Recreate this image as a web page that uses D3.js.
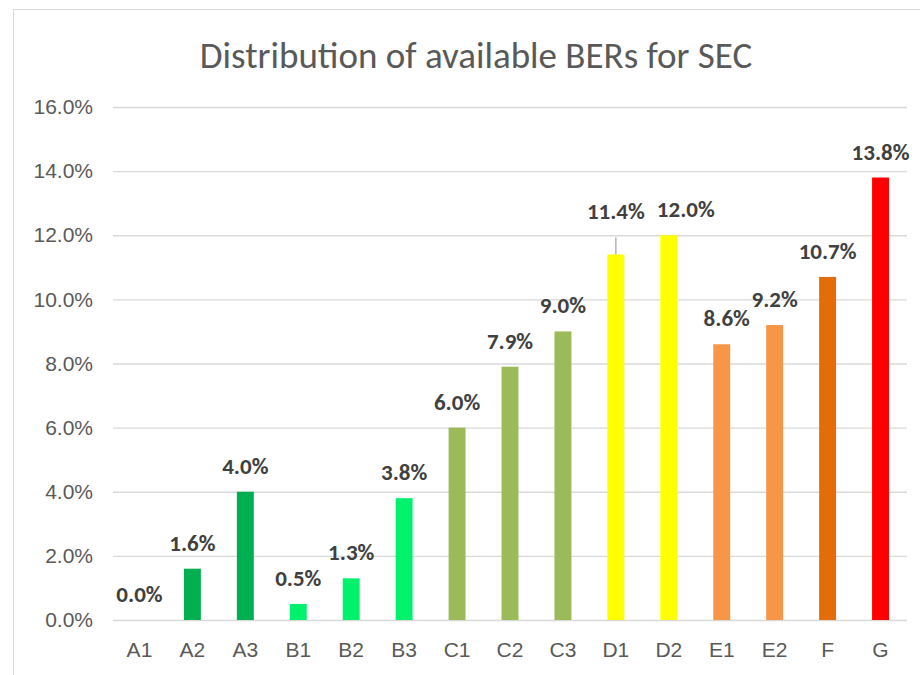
<!DOCTYPE html>
<html>
<head>
<meta charset="utf-8">
<script src="https://cdn.jsdelivr.net/npm/d3@7"></script>
<style>
  body { margin: 0; background: #fff; }
  svg { display: block; font-family: Carlito, Calibri, Lato, sans-serif; }
</style>
</head>
<body>
<svg id="chart"></svg>
<script>
// Chart data
const categories = ['A1', 'A2', 'A3', 'B1', 'B2', 'B3', 'C1', 'C2', 'C3', 'D1', 'D2', 'E1', 'E2', 'F', 'G'];
const values = [0.0, 1.6, 4.0, 0.5, 1.3, 3.8, 6.0, 7.9, 9.0, 11.4, 12.0, 8.6, 9.2, 10.7, 13.8];
const barColors = ['#00B050', '#00B050', '#00B050', '#00F26D', '#00F26D', '#00F26D',
  '#9BBB59', '#9BBB59', '#9BBB59', '#FFFF00', '#FFFF00', '#F79646', '#F79646', '#E46C0A', '#FF0000'];
const yTicks = [0, 2, 4, 6, 8, 10, 12, 14, 16];
const chartTitle = 'Distribution of available BERs for SEC';

const width = 920;
const height = 675;
const marginTop = 107;
const marginRight = 13;
const marginBottom = 55;
const marginLeft = 113;

const svg = d3.select('#chart')
  .attr('width', width)
  .attr('height', height)
  .attr('viewBox', [0, 0, width, height]);

// chart area border (only left/top visible)
svg.append('path')
  .attr('d', `M13.5,${height} V9.5 H${width}`)
  .attr('fill', 'none')
  .attr('stroke', '#D9D9D9')
  .attr('stroke-width', 1);

const xScale = d3.scaleBand(categories, [marginLeft, width - marginRight]).paddingInner(0.68).paddingOuter(0.34);
const yScale = d3.scaleLinear([0, 16], [height - marginBottom, marginTop]);

// Title
svg.append('text')
  .attr('x', 476)
  .attr('y', 68)
  .attr('text-anchor', 'middle')
  .attr('fill', '#595959')
  .attr('font-size', 37)
  .text(chartTitle);

// Y axis with grid
svg.append('g')
  .attr('transform', `translate(${marginLeft},0)`)
  .call(d3.axisLeft(yScale).tickValues(yTicks).tickFormat(d => d.toFixed(1) + '%').tickSize(0).tickPadding(20))
  .call(g => g.select('.domain').remove())
  .call(g => g.selectAll('.tick text')
    .attr('fill', '#595959')
    .attr('font-size', 21)
    .attr('font-family', null))
  .call(g => g.selectAll('.tick line')
    .attr('stroke', '#D9D9D9')
    .attr('stroke-width', 1.3)
    .attr('x2', width - marginLeft - marginRight));

// X axis
svg.append('g')
  .attr('transform', `translate(0,${height - marginBottom})`)
  .call(d3.axisBottom(xScale).tickSize(0).tickPadding(22))
  .call(g => g.select('.domain').remove())
  .call(g => g.selectAll('.tick text')
    .attr('fill', '#595959')
    .attr('font-size', 21)
    .attr('font-family', null));

// Bars
svg.append('g')
  .selectAll('rect')
  .data(values)
  .join('rect')
  .attr('x', (d, i) => xScale(categories[i]))
  .attr('y', d => yScale(d))
  .attr('width', xScale.bandwidth())
  .attr('height', d => yScale(0) - yScale(d))
  .attr('fill', (d, i) => barColors[i]);

// label nudges: D1 lifted (with leader line), D2 and E1 pushed right
const lifted = { D1: 17 };
const shifted = { D2: 17, E1: 5 };

svg.append('g')
  .selectAll('line')
  .data(categories.filter(c => lifted[c]))
  .join('line')
  .attr('x1', c => xScale(c) + xScale.bandwidth() / 2)
  .attr('x2', c => xScale(c) + xScale.bandwidth() / 2)
  .attr('y1', c => yScale(values[categories.indexOf(c)]))
  .attr('y2', c => yScale(values[categories.indexOf(c)]) - lifted[c])
  .attr('stroke', '#A6A6A6')
  .attr('stroke-width', 1.3);

// Data labels
svg.append('g')
  .selectAll('text')
  .data(values)
  .join('text')
  .attr('x', (d, i) => xScale(categories[i]) + xScale.bandwidth() / 2 + (shifted[categories[i]] || 0))
  .attr('y', (d, i) => yScale(d) - 18 - (lifted[categories[i]] || 0))
  .attr('text-anchor', 'middle')
  .attr('fill', '#404040')
  .attr('font-size', 23)
  .attr('font-weight', 'bold')
  .text(d => d.toFixed(1) + '%');
</script>
</body>
</html>
